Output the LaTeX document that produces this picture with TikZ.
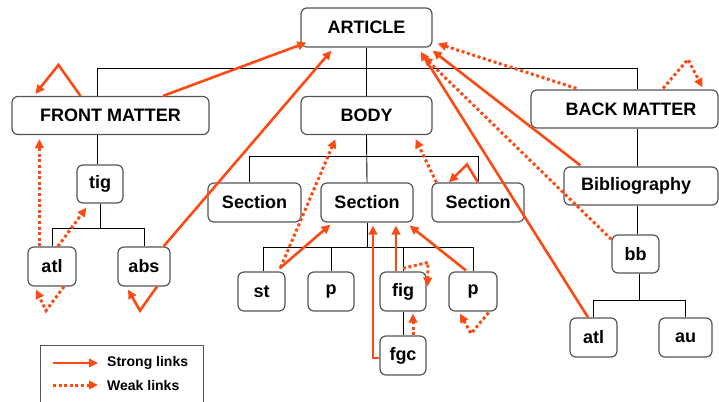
\documentclass[tikz,border=0pt]{standalone}
\usepackage{fontspec}
\setmainfont{Liberation Sans}
\usetikzlibrary{arrows.meta,calc}
\definecolor{linkred}{RGB}{250,75,20}
\definecolor{boxgray}{RGB}{85,85,85}
\begin{document}
\begin{tikzpicture}[x=1pt,y=-1pt,
  box/.style={draw=boxgray, line width=1.2pt, rounded corners=6pt, fill=white, inner sep=0pt,
    font=\fontsize{18}{20}\selectfont\bfseries},
  tree/.style={draw=black, line width=0.9pt},
  strong/.style={draw=linkred, line width=2.6pt, -{Triangle[length=9pt,width=8.5pt]}},
  weak/.style={strong, line width=3pt, dash pattern=on 3pt off 2.6pt},
  legtext/.style={font=\fontsize{14}{16}\selectfont\bfseries, anchor=west, inner sep=0pt}]
\useasboundingbox (0,0) rectangle (719,401);

% ---------- nodes ----------
\node[box, minimum width=131pt, minimum height=39pt] (art) at (366.5,27.5) {ARTICLE};
\node[box, minimum width=197pt, minimum height=38pt] (fm) at (110.5,115.5) {FRONT MATTER};
\node[box, minimum width=131pt, minimum height=38pt] (body) at (366.5,115.5) {BODY};
\node[box, minimum width=187pt, minimum height=38pt] (bm) at (624.5,109) {\hspace*{13pt}BACK MATTER};
\node[box, minimum width=46pt, minimum height=38pt] (tig) at (100,184) {tig};
\node[box, minimum width=48pt, minimum height=39pt] (atlL) at (52,266.5) {atl};
\node[box, minimum width=52pt, minimum height=39pt] (abs) at (144,266.5) {abs};
\node[box, minimum width=93pt, minimum height=39pt] (sec1) at (254.5,202.5) {Section};
\node[box, minimum width=92pt, minimum height=39pt] (sec2) at (367,202.5) {Section};
\node[box, minimum width=92pt, minimum height=39pt] (sec3) at (478,202.5) {Section};
\node[box, minimum width=154pt, minimum height=38pt] (bib) at (641,186) {\hspace*{-10pt}Bibliography};
\node[box, minimum width=47pt, minimum height=38pt] (bb) at (635.5,254) {bb};
\node[box, minimum width=47pt, minimum height=39pt] (atlR) at (593.5,337.5) {atl};
\node[box, minimum width=53pt, minimum height=39pt] (au) at (685.5,337.5) {au};
\node[box, minimum width=47pt, minimum height=39pt] (st) at (261.5,291.5) {st};
\node[box, minimum width=46pt, minimum height=39pt] (p1) at (331,291.5) {p};
\node[box, minimum width=46pt, minimum height=39pt] (fig) at (403,291.5) {fig};
\node[box, minimum width=48pt, minimum height=39pt] (p2) at (473,291.5) {p};
\node[box, minimum width=46pt, minimum height=39pt] (fgc) at (403,355.5) {fgc};

% ---------- tree ----------
\coordinate (busL) at (97,68);
\coordinate (busR) at (637,68);
\draw[tree] (fm.north -| busL) -- (busL) -- (busR) -- (bm.north -| busR);
\draw[tree] (art.south) -- (body.north);
\draw[tree] (fm.south -| busL) -- (tig.north -| busL);
\coordinate (tigbus) at (100,228);
\draw[tree] (tig.south) -- (tigbus);
\draw[tree] (atlL.north) -- (atlL.north |- tigbus) -- (abs.north |- tigbus) -- (abs.north);
\coordinate (bodybus) at (249,156);
\draw[tree] (body.south) -- (sec2.north);
\draw[tree] (sec1.north -| bodybus) -- (bodybus) -- (bodybus -| sec3.north) -- (sec3.north);
\coordinate (secbus) at (263,247);
\draw[tree] (sec2.south) -- (sec2.south |- secbus);
\draw[tree] (st.north -| secbus) -- (secbus) -- (secbus -| p2.north) -- (p2.north);
\draw[tree] (p1.north) -- (p1.north |- secbus);
\draw[tree] (fig.north) -- (fig.north |- secbus);
\draw[tree] (fig.south) -- (fgc.north);
\draw[tree] (bm.south -| busR) -- (bib.north -| busR);
\draw[tree] (bib.south -| busR) -- (bb.north -| busR);
\coordinate (bbbus) at (639,300);
\draw[tree] (bb.south -| bbbus) -- (bbbus);
\draw[tree] (atlR.north) -- (atlR.north |- bbbus) -- (au.north |- bbbus) -- (au.north);

% ---------- strong links ----------
\draw[strong] ($(fm.north)+(-30,0)$) -- ($(fm.north)+(-52,-31)$) -- ($(fm.north west)+(24,-2)$);
\draw[strong] ($(fm.north)+(52.5,0)$) -- ($(art.south west)+(6,-5)$);
\draw[strong] ($(abs.north east)+(-7,0)$) -- ($(art.south west)+(31,3)$);
\draw[strong] ($(abs.south)+(13,0)$) -- ($(abs.south)+(-4,24)$) -- ($(abs.south)+(-16,3)$);
\draw[strong] ($(st.north east)+(-6,-3)$) -- ($(sec2.south west)+(10,2)$);
\draw[strong] ($(fgc.west)+(0,2.5)$) -| ($(sec2.south)+(6,3)$);
\draw[strong] ($(fig.north)+(-7,0)$) -- ($(sec2.south)+(29,3)$);
\draw[strong] ($(p2.north)+(-7,-1)$) -- ($(sec2.south east)+(-4,3)$);
\draw[strong] ($(sec3.north)+(0,0)$) -- ($(sec3.north)+(-11,-18)$) -- ($(sec3.north)+(-29,0)$);
\draw[strong] ($(atlR.north)+(-5.5,0)$) -- ($(art.south east)+(-12,4)$);
\draw[strong] ($(bib.north west)+(17,-1)$) -- ($(art.south east)+(0,3)$);

% ---------- weak links ----------
\draw[weak] ($(bm.north west)+(46,-1)$) -- ($(art.south east)+(5,-4)$);
\draw[weak] ($(bm.north)+(38.5,-1)$) -- ($(bm.north)+(63.5,-30)$) -- ($(bm.north)+(78,-2)$);
\draw[weak] ($(bb.north west)+(0,5)$) -- ($(art.south east)+(-9,9)$);
\draw[weak] ($(atlL.north west)+(12,0)$) -- ($(fm.south west)+(28,4)$);
\draw[weak] ($(atlL.north)+(6,0)$) -- ($(tig.south west)+(10,4)$);
\draw[weak] ($(atlL.south)+(12,0)$) -- ($(atlL.south)+(-6,24)$) -- ($(atlL.south)+(-16,3)$);
\draw[weak] ($(st.north east)+(-5,-4)$) -- ($(body.south west)+(35,4)$);
\draw[weak] ($(sec3.north west)+(5,0)$) -- ($(body.south east)+(-17,4)$);
\draw[weak] ($(fig.north)+(0,-3)$) -- ($(fig.north)+(25,-9)$) -- ($(fig.east)+(1,-5)$);
\draw[weak] ($(fgc.north)+(10,0)$) -- ($(fig.south)+(10,2)$);
\draw[weak] ($(p2.south east)+(-9,1)$) -- ($(p2.south)+(-2,22)$) -- ($(p2.south)+(-13,2)$);

% ---------- legend ----------
\draw[draw=boxgray, line width=1pt] (40,405) -- (40,345) -- (203,345) -- (203,405);
\node[legtext] (ls) at (107,363) {Strong links};
\node[legtext] (lw) at (107,385) {Weak links};
\draw[strong] ($(ls.west)+(-54,0)$) -- ($(ls.west)+(-9,0)$);
\draw[weak] ($(lw.west)+(-54,0)$) -- ($(lw.west)+(-9,0)$);
\end{tikzpicture}
\end{document}
